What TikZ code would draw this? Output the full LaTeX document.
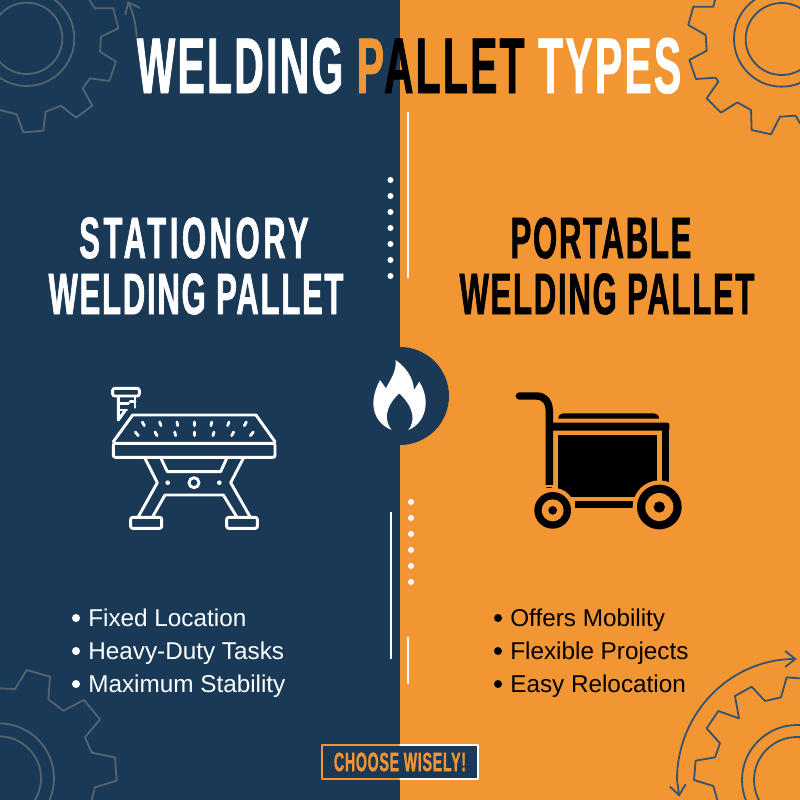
\documentclass[tikz,border=0pt]{standalone}
\usepackage{fontspec}
\usetikzlibrary{arrows.meta}
\setmainfont{Liberation Sans}
\newfontfamily\condfont[FakeStretch=0.53,FakeBold=1,LetterSpace=3]{Liberation Sans Bold}
\newfontfamily\titlefont[FakeStretch=0.515,FakeBold=1,LetterSpace=3]{Liberation Sans Bold}
\definecolor{navyside}{HTML}{1A3957}
\definecolor{orangeside}{HTML}{F29533}
\definecolor{gearonnavy}{HTML}{56646F}
\definecolor{gearonorange}{HTML}{35526E}
\tikzstyle{every path}=[line width=0.8pt,line cap=round,line join=round]
\tikzset{
  zoomed/.style 2 args={shift={(#1,#2)},x=0.16667pt,y=-0.16667pt},
  titletext/.style={font=\titlefont\fontsize{39.5}{39}\selectfont,inner sep=0pt},
  headtext/.style={font=\condfont\fontsize{29.3}{28}\selectfont,align=center,inner sep=0pt},
  itemtext/.style={font=\fontsize{12.15}{14}\selectfont,anchor=base west,inner sep=0pt},
  gearline/.style={line width=0.9pt},
  iconline/.style={white,line width=1.45pt},
  dividerline/.style={line width=0.9pt,line cap=butt},
}
\begin{document}
\begin{tikzpicture}[x=0.5pt,y=-0.5pt,>={Straight Barb[length=5pt,width=8pt]}]
\useasboundingbox (0,0) rectangle (800,800);
\fill[navyside] (0,0) rectangle (400,800);
\fill[orangeside] (400,0) rectangle (800,800);
% gears in the corners
\begin{scope}[zoomed={0}{0},gearonnavy]
\draw[gearline] (268,0)--(285,25)--(340,25)--(355,85)--(303,110)--(300,155)--(348,185)--(328,243)--(270,235)--(248,265)--(277,317)--(228,353)--(183,317)--(137,335)--(130,392)--(70,397)--(50,343)--(0,330);
\draw[gearline] (80,115) circle (107);
\draw[gearline] (80,115) circle (143);
\draw[gearline,->] (410,110) .. controls (408,70) and (398,35) .. (383,3);
\end{scope}
\begin{scope}[zoomed={680}{0},gearonorange]
\draw[gearline] (105,0)--(100,20)--(40,20)--(25,75)--(77,105)--(80,152)--(28,180)--(48,237)--(107,233)--(115,245)--(80,295)--(123,338)--(172,307)--(213,330)--(215,390)--(273,403)--(300,350)--(347,347)--(360,370);
\draw[gearline] (305,117) circle (108);
\draw[gearline] (305,117) circle (143);
\end{scope}
\begin{scope}[zoomed={0}{660},gearonnavy]
\draw[gearline] (0,85)--(45,87)--(80,30)--(150,50)--(145,118)--(190,152)--(252,120)--(300,178)--(255,232)--(275,278)--(345,292)--(350,362)--(285,382)--(275,420);
\draw[gearline] (-3,355) circle (126);
\draw[gearline] (-3,355) circle (165);
\end{scope}
\begin{scope}[zoomed={640}{640},gearonorange]
\draw[gearline] (480,115)--(440,112)--(423,172)--(375,183)--(335,140)--(285,168)--(297,235)--(235,213)--(200,265)--(240,310)--(225,352)--(167,362)--(162,420)--(220,438)--(232,480);
\draw[gearline,<->] (470,57) .. controls (272,57) and (111,218) .. (111,420) -- (118,470);
\draw[gearline] (471,420) circle (129);
\draw[gearline] (471,420) circle (165);
\end{scope}
% centre badge
\fill[navyside] (400,396) circle (49);
\begin{scope}[zoomed={340}{330}]
\fill[white] (155,300) .. controls (105,280) and (80,225) .. (120,150) -- (138,175) .. controls (150,150) and (170,125) .. (167,90) .. controls (195,110) and (220,140) .. (222,180) -- (238,155) .. controls (275,215) and (255,280) .. (205,300) .. controls (225,275) and (225,235) .. (178,190) .. controls (130,235) and (135,275) .. (155,300) -- cycle;
\end{scope}
% divider lines and dots
\draw[white,dividerline] (408,112)--(408,278);
\draw[white,dividerline] (391,512)--(391,659);
\draw[white,dividerline] (408,637)--(408,684);
\foreach \y in {180,196,212,228,244,260,276}
  \fill[white] (390.5,\y) circle (3);
\foreach \y in {502,518,534,550,566,582}
  \fill[white] (411,\y) circle (3);
% stationary table
\begin{scope}[zoomed={80}{370}]
\draw[iconline] (100,215)--(158,135)--(528,135)--(585,215);
\draw[iconline,rounded corners=1pt] (100,220) rectangle (585,262);
\foreach \i in {-3,...,3} {
  \draw[white,line width=1.4pt] (343+51*\i+\i,156)--(343+51*\i-\i,167);
  \draw[white,line width=1.4pt] (343+57*\i+2*\i,186)--(343+57*\i-\i,197);
}
\draw[iconline] (195,265)--(232,338)--(175,440);
\draw[iconline] (490,265)--(452,338)--(510,440);
\draw[iconline] (218,440)--(255,375)--(430,375)--(470,440);
\draw[iconline] (243,265)--(262,305)--(422,305)--(440,265);
\draw[iconline,rounded corners=1pt] (152,442) rectangle (245,475);
\draw[iconline,rounded corners=1pt] (440,442) rectangle (532,475);
\draw[iconline] (342,338) circle (15);
\fill[white] (263,338) circle (7);
\fill[white] (418,338) circle (7);
\draw[iconline,rounded corners=1pt] (98,55) rectangle (178,78);
\draw[iconline] (115,80)--(115,150)--(135,122);
\draw[iconline] (165,80)--(165,112);
\draw[iconline] (122,100)--(145,100);
\draw[iconline] (122,120)--(140,120);
\draw[iconline] (150,95)--(165,95);
\end{scope}
% portable cart
\begin{scope}[zoomed={500}{370}]
\draw[line width=3.7pt,line cap=round] (58,78)--(110,78) .. controls (135,78) and (148,98) .. (148,120) -- (148,345);
\fill[black] (175,146) .. controls (175,136) and (182,130) .. (190,130) -- (462,130) .. controls (470,130) and (477,136) .. (477,146) -- cycle;
\fill[black,rounded corners=1pt] (148,158) rectangle (508,182);
\fill[black] (485,158) rectangle (508,340);
\fill[black] (173,195) rectangle (470,380);
\fill[black] (225,393) rectangle (398,415);
\fill[orangeside] (478,411) circle (80);
\fill[orangeside] (158,421) circle (68);
\fill[orangeside] (130,345) rectangle (165,352);
\fill[black] (158,421) circle (55);
\fill[orangeside] (158,421) circle (33);
\fill[black] (158,421) circle (13);
\fill[black] (478,411) circle (67);
\fill[orangeside] (478,411) circle (42);
\fill[black] (478,411) circle (17);
\end{scope}
% texts
\node[titletext,anchor=base] (title) at (409,93) {\color{white}WELDING \color{orangeside}P\color{black}ALLET \color{white}TYPES};
\node[headtext,white] (stationary) at (196,266) {\hspace*{-2pt}\addfontfeature{LetterSpace=6}STATIONORY\\WELDING PALLET};
\node[headtext,black] (portable) at (607,266) {\hspace*{-6pt}PORTABLE\\WELDING PALLET};
\foreach \y/\name/\itemname in {626/a/Fixed Location,659/b/Heavy-Duty Tasks,692/c/Maximum Stability} {
  \fill[white] (76,\y-8) circle (4);
  \node[itemtext,white] (left\name) at (87.5,\y) {\itemname};
}
\foreach \y/\name/\itemname in {626/a/Offers Mobility,659/b/Flexible Projects,692/c/Easy Relocation} {
  \fill[black] (498,\y-8) circle (4);
  \node[itemtext,black] (right\name) at (509.5,\y) {\itemname};
}
\node[fill=navyside,text=orangeside,font=\condfont\fontsize{13.3}{14}\selectfont,minimum width=78pt,minimum height=17pt,inner sep=0pt,outer sep=0pt] (choose) at (400,762) {CHOOSE WISELY!};
\draw[orangeside] (choose.north)--(choose.north west)--(choose.south west)--(choose.south);
\draw[white] (choose.north)--(choose.north east)--(choose.south east)--(choose.south);
\end{tikzpicture}
\end{document}
